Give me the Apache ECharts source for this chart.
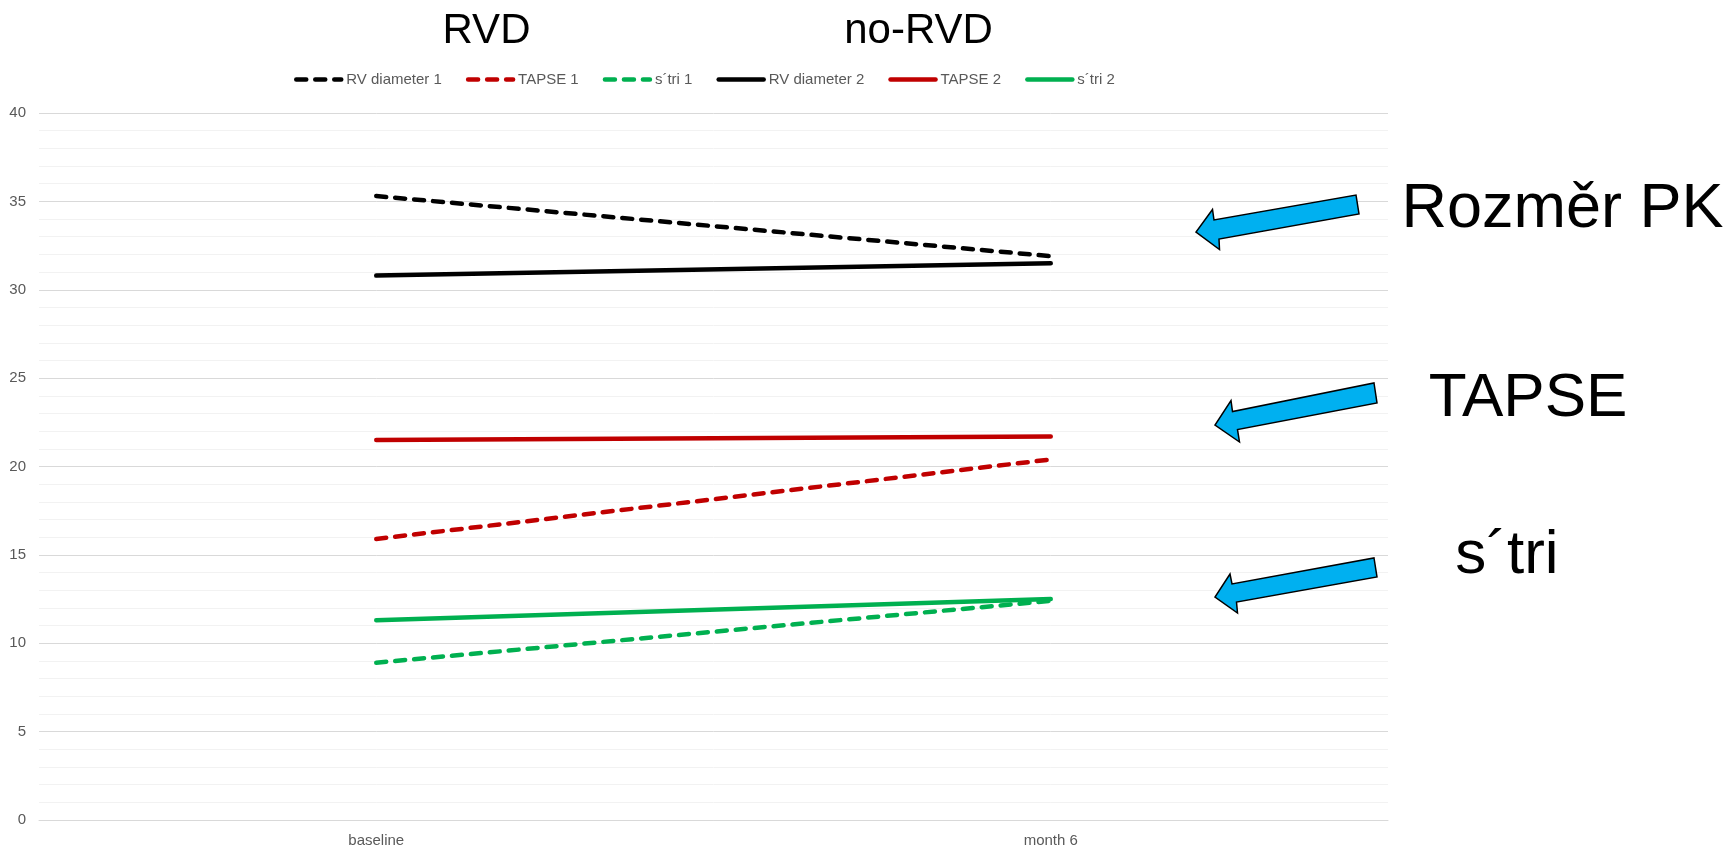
<!DOCTYPE html>
<html>
<head>
<meta charset="utf-8">
<title>RVD / no-RVD</title>
<script src="https://cdn.jsdelivr.net/npm/echarts@6/dist/echarts.min.js"></script>
<style>
  html, body { margin: 0; padding: 0; background: #ffffff; }
  #chart { width: 1731px; height: 849px; }
</style>
</head>
<body>
<div id="chart"></div>
<script>
// Time points
const categories = ['baseline', 'month 6'];

// Group 1 (dashed lines)
const rvDiameter1 = [35.3, 31.9];
const tapse1 = [15.9, 20.4];
const stri1 = [8.9, 12.4];

// Group 2 (solid lines)
const rvDiameter2 = [30.8, 31.5];
const tapse2 = [21.5, 21.7];
const stri2 = [11.3, 12.5];

// Y axis scale
const yMin = 0;
const yMax = 40;
const yStep = 5;

const FONT = '"Liberation Sans", Arial, sans-serif';
const BLACK = '#000000';
const RED = '#C00000';
const GREEN = '#00B050';
const DASH = [10, 9];
const LINE_W = 4.5;

function lineSeries(name, values, color, dashed) {
  return {
    name: name,
    type: 'line',
    data: values,
    symbol: 'none',
    smooth: false,
    lineStyle: {
      color: color,
      width: LINE_W,
      type: dashed ? DASH : 'solid',
      cap: 'round'
    },
    itemStyle: { color: color },
    emphasis: { disabled: true }
  };
}

// Callout arrows pointing at the three measurement groups
const arrowShapes = [
  [[1356, 195], [1359, 214], [1219, 239], [1219.5, 249.5], [1196, 232], [1212.5, 209.5], [1214, 220]],
  [[1374, 383], [1377, 403], [1237.5, 429.5], [1239.5, 442], [1215, 425], [1231, 400.5], [1232.5, 411.5]],
  [[1374, 558], [1377, 577], [1236.5, 602], [1237.5, 613], [1215, 597], [1230, 574], [1232, 584]]
];

const headings = [
  { text: 'RVD', x: 486.5, y: 28, size: 42 },
  { text: 'no-RVD', x: 918.5, y: 28, size: 42 },
  { text: 'Rozměr PK', x: 1562.5, y: 204.5, size: 63 },
  { text: 'TAPSE', x: 1528, y: 394, size: 62 },
  { text: 's´tri', x: 1507, y: 551, size: 62 }
];

const graphics = [];
arrowShapes.forEach(function (pts) {
  graphics.push({
    type: 'polygon',
    shape: { points: pts },
    style: { fill: '#00B0F0', stroke: '#000000', lineWidth: 1.5, lineJoin: 'miter' },
    z: 10
  });
});
headings.forEach(function (h) {
  graphics.push({
    type: 'text',
    x: h.x,
    y: h.y + 0.085 * h.size,
    style: {
      text: h.text,
      fill: '#000000',
      font: h.size + 'px ' + FONT,
      textAlign: 'center',
      textVerticalAlign: 'middle',
      verticalAlign: 'middle'
    },
    z: 10
  });
});

const chart = echarts.init(document.getElementById('chart'), null, { renderer: 'canvas' });

chart.setOption({
  animation: false,
  backgroundColor: '#ffffff',
  textStyle: { fontFamily: FONT },
  grid: { left: 39, right: 343, top: 113, bottom: 29, containLabel: false },
  legend: {
    left: 294,
    top: 72,
    padding: 0,
    itemWidth: 45,
    itemHeight: 14,
    itemGap: 24,
    itemStyle: { opacity: 0 },
    lineStyle: { width: LINE_W },
    textStyle: { color: '#595959', fontSize: 15, fontFamily: FONT },
    data: ['RV diameter 1', 'TAPSE 1', 's´tri 1', 'RV diameter 2', 'TAPSE 2', 's´tri 2']
  },
  xAxis: {
    type: 'category',
    data: categories,
    boundaryGap: true,
    axisLine: { show: true, lineStyle: { color: '#d9d9d9', width: 1 } },
    axisTick: { show: false },
    axisLabel: { color: '#595959', fontSize: 15, fontFamily: FONT, margin: 13 },
    splitLine: { show: false }
  },
  yAxis: {
    type: 'value',
    min: yMin,
    max: yMax,
    interval: yStep,
    axisLine: { show: false },
    axisTick: { show: false },
    axisLabel: { color: '#595959', fontSize: 15, fontFamily: FONT, margin: 13 },
    splitLine: { show: true, lineStyle: { color: '#d9d9d9', width: 1 } },
    minorTick: { show: false, splitNumber: 5 },
    minorSplitLine: { show: true, lineStyle: { color: '#f2f2f2', width: 1 } }
  },
  series: [
    lineSeries('RV diameter 1', rvDiameter1, BLACK, true),
    lineSeries('TAPSE 1', tapse1, RED, true),
    lineSeries('s´tri 1', stri1, GREEN, true),
    lineSeries('RV diameter 2', rvDiameter2, BLACK, false),
    lineSeries('TAPSE 2', tapse2, RED, false),
    lineSeries('s´tri 2', stri2, GREEN, false)
  ],
  graphic: graphics
});
</script>
</body>
</html>
